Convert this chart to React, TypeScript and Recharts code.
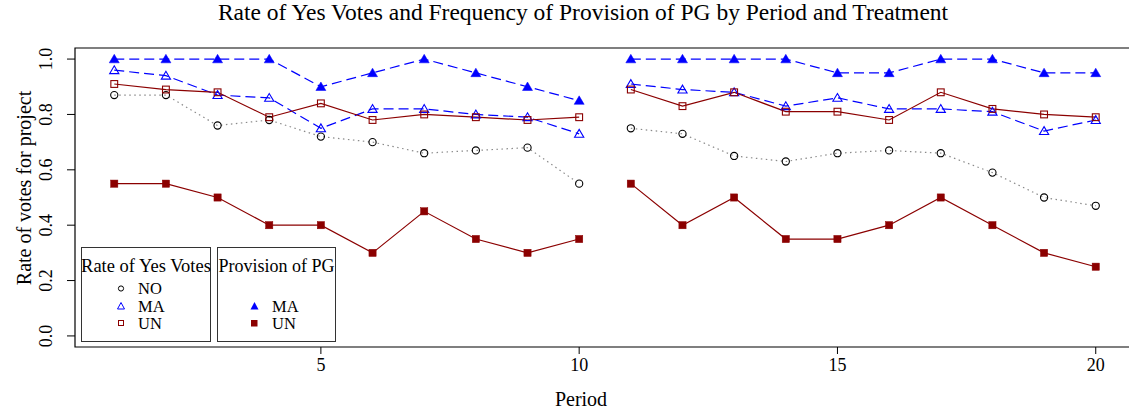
import { LineChart, Line, XAxis, YAxis, ReferenceArea } from "recharts";

const periods = [1, 2, 3, 4, 5, 6, 7, 8, 9, 10, 11, 12, 13, 14, 15, 16, 17, 18, 19, 20];
// rate of yes votes
const noRate = [0.87, 0.87, 0.76, 0.78, 0.72, 0.7, 0.66, 0.67, 0.68, 0.55, 0.75, 0.73, 0.65, 0.63, 0.66, 0.67, 0.66, 0.59, 0.5, 0.47];
const maRate = [0.96, 0.94, 0.87, 0.86, 0.75, 0.82, 0.82, 0.8, 0.79, 0.73, 0.91, 0.89, 0.88, 0.83, 0.86, 0.82, 0.82, 0.81, 0.74, 0.78];
const unRate = [0.91, 0.89, 0.88, 0.79, 0.84, 0.78, 0.8, 0.79, 0.78, 0.79, 0.89, 0.83, 0.88, 0.81, 0.81, 0.78, 0.88, 0.82, 0.8, 0.79];
// provision of PG
const maProv = [1, 1, 1, 1, 0.9, 0.95, 1, 0.95, 0.9, 0.85, 1, 1, 1, 1, 0.95, 0.95, 1, 1, 0.95, 0.95];
const unProv = [0.55, 0.55, 0.5, 0.4, 0.4, 0.3, 0.45, 0.35, 0.3, 0.35, 0.55, 0.4, 0.5, 0.35, 0.35, 0.4, 0.5, 0.4, 0.3, 0.25];

const xTicks = [5, 10, 15, 20];
const yTicks = [0, 0.2, 0.4, 0.6, 0.8, 1];

const rows = periods.map((p, i) => ({
  period: p,
  no: noRate[i],
  ma: maRate[i],
  un: unRate[i],
  maP: maProv[i],
  unP: unProv[i],
}));
const halves = [rows.slice(0, 10), rows.slice(10)];

const BLUE = "#0000ff";
const RED = "#8b0000";
const FONT = "'Liberation Serif', 'DejaVu Serif', serif";

const circle = (s = 3.6) => (p: any) => (
  <circle key={p.key} cx={p.cx} cy={p.cy} r={s} fill="none" stroke="#000" strokeWidth={1.1} />
);
const tri = (filled: boolean, s = 4.6) => (p: any) => (
  <polygon
    key={p.key}
    points={`${p.cx - s},${p.cy + s * 0.75} ${p.cx + s},${p.cy + s * 0.75} ${p.cx},${p.cy - s * 0.95}`}
    fill={filled ? BLUE : "none"}
    stroke={BLUE}
    strokeWidth={filled ? 0.5 : 1.1}
  />
);
const sq = (filled: boolean, s = 3.4) => (p: any) => (
  <rect
    key={p.key}
    x={p.cx - s}
    y={p.cy - s}
    width={s * 2}
    height={s * 2}
    fill={filled ? RED : "none"}
    stroke={RED}
    strokeWidth={filled ? 0.5 : 1.1}
  />
);

const series = [
  { key: "no", stroke: "#8a8a8a", dash: "1.5 3.5", dot: circle() },
  { key: "ma", stroke: BLUE, dash: "10 5", dot: tri(false) },
  { key: "un", stroke: RED, dash: undefined, dot: sq(false) },
  { key: "maP", stroke: BLUE, dash: "10 5", dot: tri(true, 5) },
  { key: "unP", stroke: RED, dash: undefined, dot: sq(true, 3.6) },
];

const YTick = (props: any) => (
  <text
    transform={`translate(52,${props.y}) rotate(-90)`}
    textAnchor="middle"
    fontFamily={FONT}
    fontSize={18}
    fill="#000"
  >
    {Number(props.payload.value).toFixed(1)}
  </text>
);

const XTick = (props: any) => (
  <text x={props.x} y={props.y + 15} textAnchor="middle" fontFamily={FONT} fontSize={18} fill="#000">
    {props.payload.value}
  </text>
);

export default function App() {
  return (
    <div style={{ position: "absolute", left: 0, top: 0, width: 1129, height: 414, overflow: "hidden", background: "#fff" }}>
      <LineChart width={1140} height={414} margin={{ top: 48, right: 5, bottom: 27, left: 15 }} style={{ position: "absolute", left: 0, top: 0 }}>
        <XAxis
          type="number"
          dataKey="period"
          domain={[0.24, 20.76]}
          ticks={xTicks}
          allowDataOverflow
          axisLine={false}
          tickSize={7}
          tickLine={{ stroke: "#000" }}
          tick={<XTick />}
          height={40}
        />
        <YAxis
          type="number"
          domain={[-0.04, 1.04]}
          ticks={yTicks}
          allowDataOverflow
          axisLine={false}
          tickSize={8}
          tickLine={{ stroke: "#000" }}
          tick={<YTick />}
          width={60}
        />
        <ReferenceArea x1={0.24} x2={20.76} y1={-0.04} y2={1.04} fill="none" stroke="#000" strokeWidth={1.2} ifOverflow="visible" />
        {series.map((s) =>
          halves.map((h, hi) => (
            <Line
              key={s.key + hi}
              data={h}
              dataKey={s.key}
              stroke={s.stroke}
              strokeWidth={1.2}
              strokeDasharray={s.dash}
              dot={s.dot}
              activeDot={false}
              isAnimationActive={false}
            />
          ))
        )}
      </LineChart>
      <svg width={1129} height={414} style={{ position: "absolute", left: 0, top: 0, pointerEvents: "none" }} fontFamily={FONT}>
        <text x={583} y={20} textAnchor="middle" fontSize={23.5}>
          Rate of Yes Votes and Frequency of Provision of PG by Period and Treatment
        </text>
        <text x={581} y={406} textAnchor="middle" fontSize={20}>
          Period
        </text>
        <text transform="translate(31,188) rotate(-90)" textAnchor="middle" fontSize={20}>
          Rate of votes for project
        </text>

        <rect x={81.5} y={247.5} width={129} height={94} fill="#fff" stroke="#333" />
        <rect x={217.5} y={247.5} width={118} height={94} fill="#fff" stroke="#333" />
        <text x={146} y={272} textAnchor="middle" fontSize={18.5}>Rate of Yes Votes</text>
        <text x={276.5} y={272} textAnchor="middle" fontSize={18}>Provision of PG</text>

        <circle cx={121} cy={288.5} r={2.6} fill="none" stroke="#000" />
        <text x={138} y={294} fontSize={16.5}>NO</text>
        <polygon points="117.5,309 124.5,309 121,302.5" fill="none" stroke={BLUE} />
        <text x={138} y={311.5} fontSize={16.5}>MA</text>
        <rect x={118.5} y={320.5} width={5} height={5} fill="none" stroke={RED} />
        <text x={138} y={329} fontSize={16.5}>UN</text>

        <polygon points="250.5,309.5 258.5,309.5 254.5,302" fill={BLUE} />
        <text x={272} y={311.5} fontSize={16.5}>MA</text>
        <rect x={251} y={320} width={6.5} height={6.5} fill={RED} />
        <text x={272} y={329} fontSize={16.5}>UN</text>
      </svg>
    </div>
  );
}
